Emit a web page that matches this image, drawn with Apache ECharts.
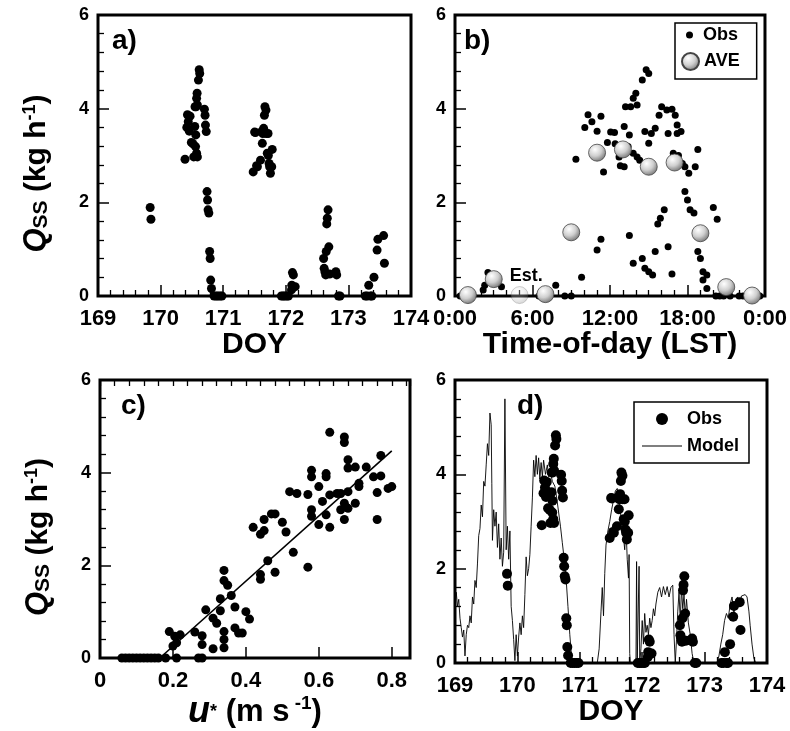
<!DOCTYPE html>
<html lang="en">
  <head>
    <meta charset="UTF-8" />
    <title>Qss observations and model</title>
    <script src="https://cdn.jsdelivr.net/npm/echarts@6.0.0/dist/echarts.min.js"></script>
    <style>
      html, body { margin: 0; padding: 0; background: #fff; }
    </style>
  </head>
  <body>
    <div id="main" style="width: 790px; height: 731px"></div>
    <script type="text/javascript">
      // observed Qss, one list of [hour LST, Qss] per day of year
      const obs169 = [[20.0, 1.89], [20.3, 1.64]];
      const obs170 = [
        [9.36, 2.92], [10.05, 3.6], [10.3, 3.87], [10.6, 3.72], [11.0, 3.52], [11.3, 3.84],
        [11.8, 3.28], [12.4, 3.25], [12.7, 2.97], [13.1, 3.62], [13.2, 4.04], [13.4, 3.19],
        [13.5, 3.44], [13.6, 4.04], [13.8, 4.22], [13.8, 3.05], [14.0, 4.33], [14.1, 4.08],
        [14.1, 2.97], [14.5, 4.61], [14.8, 4.83], [15.0, 4.75], [16.8, 3.99], [17.05, 3.86],
        [17.2, 3.65], [17.5, 3.51], [17.8, 2.23], [18.0, 2.05], [18.2, 1.84], [18.5, 1.77],
        [18.8, 0.95], [19.0, 0.8], [19.2, 0.34], [19.5, 0.16], [20.5, 0], [21.3, 0],
        [22.0, 0], [22.8, 0], [23.5, 0]
      ];
      const obs171 = [
        [11.5, 2.65], [12.05, 3.5], [12.35, 3.49], [12.8, 2.78], [13.1, 2.76], [14.3, 2.9],
        [14.7, 3.51], [15.0, 3.26], [15.2, 3.47], [15.5, 3.58], [15.8, 3.86], [16.0, 4.04],
        [16.4, 3.97], [16.5, 3.47], [16.9, 3.05], [17.2, 3.47], [17.3, 3.0], [17.6, 2.83],
        [17.8, 2.76], [18.1, 2.62], [18.6, 2.76], [18.8, 3.13], [22.3, 0], [23.0, 0], [23.6, 0]
      ];
      const obs172 = [
        [0.4, 0], [1.0, 0], [2.18, 0.13], [2.3, 0.23], [2.55, 0.5], [2.9, 0.45], [3.6, 0.2],
        [14.5, 0.8], [14.7, 0.59], [15.0, 0.52], [15.3, 0.45], [15.5, 0.95], [15.7, 1.54],
        [15.9, 1.66], [16.2, 1.84], [16.5, 1.05], [16.8, 0.47], [19.2, 0.52], [19.5, 0.45],
        [20.2, 0], [20.8, 0]
      ];
      const obs173 = [
        [6.5, 0], [7.2, 0], [7.8, 0.23], [8.5, 0], [9.0, 0], [9.8, 0.4], [11.0, 0.98],
        [11.3, 1.21], [13.5, 1.29], [13.8, 0.7]
      ];
      const obsDays = [169, 170, 171, 172, 173];
      const obsByDay = [obs169, obs170, obs171, obs172, obs173];

      // two-hour averages (panel b)
      const aveHour = [1, 3, 5, 7, 9, 11, 13, 15, 17, 19, 21, 23];
      const aveQ = [0.02, 0.36, 0.02, 0.04, 1.36, 3.06, 3.13, 2.76, 2.85, 1.34, 0.19, 0.01];

      // Qss against friction velocity u* (panel c)
      const ustarObs = [
        [0.06, 0], [0.07, 0], [0.08, 0], [0.09, 0], [0.1, 0], [0.11, 0], [0.12, 0], [0.13, 0],
        [0.14, 0], [0.15, 0], [0.16, 0], [0.18, 0], [0.21, 0], [0.27, 0], [0.28, 0],
        [0.19, 0.57], [0.205, 0.47], [0.2, 0.26], [0.22, 0.5], [0.21, 0.33], [0.26, 0.56],
        [0.28, 0.48], [0.28, 0.29], [0.29, 1.04], [0.31, 0.86], [0.32, 0.75], [0.31, 0.2],
        [0.33, 1.02], [0.33, 1.28], [0.34, 1.89], [0.34, 1.67], [0.35, 1.57], [0.34, 0.57],
        [0.34, 0.4], [0.34, 0.22], [0.36, 1.35], [0.37, 1.1], [0.37, 0.65], [0.38, 0.54],
        [0.39, 0.54], [0.4, 1.0], [0.41, 0.84],
        [0.42, 2.82], [0.44, 2.67], [0.45, 2.75], [0.45, 2.99], [0.44, 1.8], [0.44, 1.7],
        [0.46, 2.1], [0.47, 3.11], [0.48, 3.11], [0.48, 1.85], [0.5, 2.93], [0.51, 2.72],
        [0.52, 3.59], [0.54, 3.55], [0.53, 2.28], [0.57, 3.53], [0.57, 1.96], [0.58, 4.05],
        [0.58, 3.91], [0.58, 3.2], [0.58, 3.06], [0.6, 3.7], [0.6, 2.88], [0.61, 3.38],
        [0.62, 3.98], [0.62, 3.91], [0.62, 3.09], [0.63, 2.82], [0.63, 3.52], [0.65, 3.55],
        [0.63, 4.87], [0.66, 3.55], [0.66, 3.2], [0.67, 3.34], [0.67, 2.99], [0.67, 4.77],
        [0.67, 4.65], [0.68, 4.28], [0.68, 4.1], [0.68, 3.59], [0.68, 3.23], [0.7, 4.12],
        [0.7, 3.34], [0.71, 3.7], [0.71, 3.77], [0.73, 4.12], [0.75, 3.91], [0.76, 2.99],
        [0.76, 3.57], [0.77, 4.37], [0.77, 3.93], [0.79, 3.66], [0.8, 3.7]
      ];
      const ustarFit = [[0.164, 0], [0.8, 4.47]];

      // modelled Qss, [DOY, Qss] (panel d)
      const model = [
        [169.0, 1.25], [169.02, 1.5], [169.04, 1.2], [169.06, 1.35], [169.08, 0.95], [169.1, 0.75],
        [169.12, 0.55], [169.14, 0.7], [169.16, 0.15], [169.18, 0.6], [169.2, 0.8], [169.22, 0.75],
        [169.24, 1.0], [169.26, 0.85], [169.28, 1.4], [169.3, 1.25], [169.32, 1.75], [169.34, 1.6],
        [169.36, 2.1], [169.38, 2.7], [169.4, 2.85], [169.42, 3.35], [169.44, 3.1], [169.46, 3.85],
        [169.48, 3.75], [169.5, 4.2], [169.52, 4.65], [169.54, 4.4], [169.56, 5.3], [169.58, 5.05],
        [169.59, 3.8], [169.6, 2.6], [169.62, 3.25], [169.64, 2.9], [169.66, 3.2], [169.68, 2.45],
        [169.7, 2.95], [169.72, 2.2], [169.74, 2.65], [169.76, 2.05], [169.78, 2.35], [169.8, 5.6],
        [169.82, 2.4], [169.84, 2.9], [169.86, 2.2], [169.88, 2.8], [169.9, 1.2], [169.92, 0.9],
        [169.94, 0.5], [169.96, 0.05], [169.98, 0.6], [170.0, 0.15], [170.02, 0.55], [170.04, 0.85],
        [170.06, 0.6], [170.08, 1.0], [170.1, 0.75], [170.12, 1.45], [170.14, 2.25], [170.16, 1.85],
        [170.18, 2.0], [170.2, 2.3], [170.22, 2.9], [170.24, 3.5], [170.26, 4.3], [170.28, 3.95],
        [170.3, 4.4], [170.32, 4.0], [170.34, 4.35], [170.36, 3.9], [170.38, 4.25], [170.4, 3.95],
        [170.42, 4.3], [170.45, 4.0], [170.48, 4.2], [170.5, 3.95], [170.53, 4.05], [170.56, 3.85],
        [170.6, 3.75], [170.63, 3.5], [170.66, 3.2], [170.69, 2.9], [170.72, 2.55], [170.75, 2.2],
        [170.78, 1.8], [170.81, 1.2], [170.84, 0.6], [170.87, 0.1], [170.9, 0], [171.28, 0],
        [171.31, 0.3], [171.34, 1.1], [171.36, 1.6], [171.38, 1.0], [171.4, 1.9], [171.42, 2.5],
        [171.45, 2.8], [171.48, 3.0], [171.51, 3.25], [171.54, 3.45], [171.57, 3.65], [171.6, 3.7],
        [171.63, 3.4], [171.66, 3.1], [171.69, 2.8], [171.72, 2.4], [171.74, 2.9], [171.76, 2.2],
        [171.78, 1.8], [171.79, 2.3], [171.8, 0.2], [171.81, 0], [171.9, 0], [171.91, 2.15],
        [171.92, 0], [171.94, 0], [171.95, 2.05], [171.96, 0], [171.98, 0.3], [172.0, 0.9],
        [172.02, 0.4], [172.04, 1.05], [172.06, 0.65], [172.08, 0.8], [172.1, 0.6], [172.12, 0.95],
        [172.14, 0.75], [172.16, 0.9], [172.18, 1.15], [172.2, 1.0], [172.22, 1.25], [172.25, 1.5],
        [172.28, 1.6], [172.31, 1.4], [172.34, 1.62], [172.37, 1.45], [172.4, 1.62], [172.43, 1.4],
        [172.46, 1.6], [172.49, 1.65], [172.51, 0.6], [172.53, 0], [172.55, 0.5], [172.57, 1.1],
        [172.59, 1.5], [172.61, 0.9], [172.63, 1.6], [172.65, 1.15], [172.67, 1.45], [172.69, 1.0],
        [172.71, 1.35], [172.74, 0.85], [172.77, 0.6], [172.8, 0.2], [172.83, 0], [173.2, 0],
        [173.23, 0.15], [173.26, 0.4], [173.29, 0.6], [173.32, 0.9], [173.35, 1.05], [173.38, 0.95],
        [173.41, 1.25], [173.44, 1.4], [173.47, 1.05], [173.5, 1.35], [173.53, 1.4], [173.56, 1.2],
        [173.59, 1.42], [173.62, 1.4], [173.65, 1.45], [173.68, 1.4], [173.71, 1.1], [173.73, 0.8],
        [173.76, 0.4], [173.79, 0.1], [173.82, 0], [174.0, 0]
      ];

      const timeLabels = ['0:00', '6:00', '12:00', '18:00', '0:00'];
      const ustarLabels = ['0', '0.2', '0.4', '0.6', '0.8'];

      const FONT = '"Liberation Sans", Arial, Helvetica, sans-serif';

      // same observations by DOY (panels a, d) and by time of day (panel b)
      const obsDoy = [];
      const obsTod = [];
      obsByDay.forEach((list, i) => {
        list.forEach(([h, q]) => {
          obsDoy.push([obsDays[i] + h / 24, q]);
          obsTod.push([h, q]);
        });
      });

      const sphere = {
        type: 'radial', x: 0.38, y: 0.32, r: 0.75,
        colorStops: [
          { offset: 0, color: '#ffffff' },
          { offset: 0.5, color: '#cfcfcf' },
          { offset: 1, color: '#6a6a6a' }
        ]
      };

      const aveData = aveHour.map((h, i) => {
        const item = { value: [h, aveQ[i]] };
        if (h === 5) item.itemStyle = { opacity: 0.3 };
        if (h === 3) {
          item.label = {
            show: true, formatter: 'Est.', position: 'right', distance: 7, offset: [0, -3],
            fontSize: 18, fontWeight: 'bold', color: '#000', fontFamily: FONT
          };
        }
        return item;
      });

      const black = { color: '#000', opacity: 1 };
      const tickStyle = { show: true, inside: true, length: 11, lineStyle: { color: '#000', width: 1.5 } };
      const minorStyle = (n) => ({ show: true, splitNumber: n, length: 6, lineStyle: { color: '#000', width: 1.3 } });
      const labelStyle = (size) => ({ color: '#000', fontSize: size, fontWeight: 'bold', fontFamily: FONT });
      const legendText = { fontSize: 18, fontWeight: 'bold', color: '#000', fontFamily: FONT };

      function yAxis(gridIndex, withName) {
        const ax = {
          type: 'value', gridIndex: gridIndex, min: 0, max: 6, interval: 2,
          axisLine: { show: false },
          axisTick: tickStyle,
          minorTick: minorStyle(5),
          splitLine: { show: false },
          minorSplitLine: { show: false },
          axisLabel: Object.assign({ margin: 9 }, labelStyle(18))
        };
        if (withName) {
          ax.name = '{q|Q}{s|SS}{t| (kg h}{p|-1}{t|)}';
          ax.nameLocation = 'middle';
          ax.nameRotate = 90;
          ax.nameGap = 46;
          ax.nameTextStyle = {
            color: '#000', fontFamily: FONT, fontWeight: 'bold', fontSize: 30,
            padding: [0, 36, 0, 0],
            rich: {
              q: { fontSize: 31, fontStyle: 'italic', fontWeight: 'bold', fontFamily: FONT, color: '#000' },
              s: { fontSize: 21, fontWeight: 'bold', fontFamily: FONT, color: '#000', verticalAlign: 'bottom', lineHeight: 28 },
              t: { fontSize: 30, fontWeight: 'bold', fontFamily: FONT, color: '#000' },
              p: { fontSize: 18, fontWeight: 'bold', fontFamily: FONT, color: '#000', verticalAlign: 'top', lineHeight: 18 }
            }
          };
        }
        return ax;
      }

      function doyAxis(gridIndex) {
        return {
          type: 'value', gridIndex: gridIndex, min: 169, max: 174, interval: 1,
          axisLine: { show: false },
          axisTick: tickStyle,
          minorTick: minorStyle(5),
          splitLine: { show: false },
          axisLabel: Object.assign({ margin: 12 }, labelStyle(22)),
          name: 'DOY', nameLocation: 'middle', nameGap: 34, nameMoveOverlap: false,
          nameTextStyle: { color: '#000', fontSize: 30, fontWeight: 'bold', fontFamily: FONT }
        };
      }

      const option = {
        animation: false,
        backgroundColor: '#fff',
        textStyle: { fontFamily: FONT },
        grid: [
          { left: 98, top: 15, width: 313, height: 281, show: true, borderColor: '#000', borderWidth: 3, backgroundColor: 'transparent' },
          { left: 455, top: 15, width: 312, height: 281, show: true, borderColor: '#000', borderWidth: 3, backgroundColor: 'transparent' },
          { left: 100, top: 380, width: 310, height: 282, show: true, borderColor: '#000', borderWidth: 3, backgroundColor: 'transparent' },
          { left: 455, top: 380, width: 312, height: 283, show: true, borderColor: '#000', borderWidth: 3, backgroundColor: 'transparent' }
        ],
        title: [
          { text: 'a)', left: 112, top: 27, padding: 0, textStyle: { fontSize: 28, fontWeight: 'bold', color: '#000', fontFamily: FONT } },
          { text: 'b)', left: 464, top: 27, padding: 0, textStyle: { fontSize: 28, fontWeight: 'bold', color: '#000', fontFamily: FONT } },
          { text: 'c)', left: 121, top: 392, padding: 0, textStyle: { fontSize: 28, fontWeight: 'bold', color: '#000', fontFamily: FONT } },
          { text: 'd)', left: 517, top: 392, padding: 0, textStyle: { fontSize: 28, fontWeight: 'bold', color: '#000', fontFamily: FONT } }
        ],
        legend: [
          {
            // framed box of panel b; its top padding leaves room for the Obs row
            data: ['AVE'],
            orient: 'vertical', left: 675, top: 23, itemWidth: 17, itemHeight: 17,
            padding: [29, 17, 8, 6], borderColor: '#000', borderWidth: 1.5, selectedMode: false,
            textStyle: legendText
          },
          {
            data: ['Obs'],
            orient: 'vertical', left: 686, top: 26, itemWidth: 7, itemHeight: 7,
            padding: 0, selectedMode: false,
            textStyle: Object.assign({ padding: [0, 0, 0, 5] }, legendText)
          },
          {
            data: ['Obs', { name: 'Model', icon: 'path://M0,0H40V1H0Z' }],
            orient: 'vertical', left: 634, top: 402, itemWidth: 40, itemHeight: 12, itemGap: 9,
            padding: [8, 10, 8, 8], borderColor: '#000', borderWidth: 1.5, selectedMode: false,
            textStyle: legendText
          }
        ],
        xAxis: [
          doyAxis(0),
          {
            type: 'value', gridIndex: 1, min: 0, max: 24, interval: 6,
            axisLine: { show: false },
            axisTick: tickStyle,
            minorTick: minorStyle(6),
            splitLine: { show: false },
            axisLabel: Object.assign({ margin: 12, formatter: (v) => timeLabels[Math.round(v / 6)] }, labelStyle(22)),
            name: 'Time-of-day (LST)', nameLocation: 'middle', nameGap: 34, nameMoveOverlap: false,
            nameTextStyle: { color: '#000', fontSize: 30, fontWeight: 'bold', fontFamily: FONT }
          },
          {
            // u* axis: major ticks and labels
            type: 'value', gridIndex: 2, min: 0, max: 0.85, interval: 0.2,
            axisLine: { show: false },
            axisTick: tickStyle,
            splitLine: { show: false },
            axisLabel: Object.assign({
              margin: 12, showMaxLabel: false,
              formatter: (v) => ustarLabels[Math.round(v / 0.2)] || ''
            }, labelStyle(22)),
            name: '{u|u}{st|*}{t| (m s}{p| -1}{t|)}', nameLocation: 'middle', nameGap: 36, nameMoveOverlap: false,
            nameTextStyle: {
              color: '#000', fontSize: 31, fontWeight: 'bold', fontFamily: FONT,
              rich: {
                u: { fontSize: 36, fontStyle: 'italic', fontWeight: 'bold', fontFamily: FONT, color: '#000' },
                st: { fontSize: 18, fontWeight: 'bold', fontFamily: FONT, color: '#000' },
                t: { fontSize: 31, fontWeight: 'bold', fontFamily: FONT, color: '#000' },
                p: { fontSize: 19, fontWeight: 'bold', fontFamily: FONT, color: '#000', verticalAlign: 'top', lineHeight: 22 }
              }
            }
          },
          doyAxis(3),
          {
            // u* axis: minor ticks every 0.04
            type: 'value', gridIndex: 2, min: 0, max: 0.85, interval: 0.04,
            axisLine: { show: false },
            axisTick: { show: true, inside: true, length: 6, lineStyle: { color: '#000', width: 1.3 } },
            splitLine: { show: false },
            axisLabel: { show: false }
          }
        ],
        yAxis: [yAxis(0, true), yAxis(1, false), yAxis(2, true), yAxis(3, false)],
        series: [
          {
            name: 'obs-doy', type: 'scatter', xAxisIndex: 0, yAxisIndex: 0,
            data: obsDoy, symbolSize: 9, itemStyle: black
          },
          {
            name: 'Obs', type: 'scatter', xAxisIndex: 1, yAxisIndex: 1,
            data: obsTod, symbolSize: 7, itemStyle: black
          },
          {
            name: 'AVE', type: 'scatter', xAxisIndex: 1, yAxisIndex: 1, z: 3,
            data: aveData, symbolSize: 17,
            itemStyle: { color: sphere, borderColor: '#444', borderWidth: 0.8, opacity: 1 }
          },
          {
            name: 'obs-ustar', type: 'scatter', xAxisIndex: 2, yAxisIndex: 2,
            data: ustarObs, symbolSize: 9, itemStyle: black
          },
          {
            name: 'fit', type: 'line', xAxisIndex: 2, yAxisIndex: 2,
            data: ustarFit, symbol: 'none', lineStyle: { color: '#000', width: 1.6 }
          },
          {
            name: 'Model', type: 'line', xAxisIndex: 3, yAxisIndex: 3,
            data: model, symbol: 'none', itemStyle: { color: '#000' }, lineStyle: { color: '#000', width: 0.9 }
          },
          {
            name: 'Obs', type: 'scatter', xAxisIndex: 3, yAxisIndex: 3, z: 3,
            data: obsDoy, symbolSize: 10, itemStyle: black
          }
        ]
      };

      const chart = echarts.init(document.getElementById('main'));
      chart.setOption(option);
    </script>
  </body>
</html>
